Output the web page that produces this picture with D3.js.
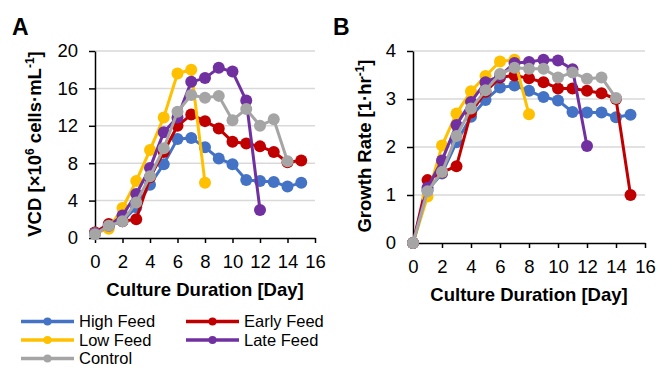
<!DOCTYPE html>
<meta charset="utf-8">
<style>
  body { margin: 0; background: #fff; }
  text { font-family: 'Liberation Sans', Arial, sans-serif; }
</style>
<script src="https://d3js.org/d3.v7.min.js"></script>
<body>
<svg id="chart" width="659" height="367"></svg>
<script>

// series names and colours (legend order)
var names  = ["High Feed", "Early Feed", "Low Feed", "Late Feed", "Control"]
var colors = ["#4472C4", "#C00000", "#FFC000", "#7030A0", "#A5A5A5"]

var days = [0, 1, 2, 3, 4, 5, 6, 7, 8, 9, 10, 11, 12, 13, 14, 15]
var xTicks = [0, 2, 4, 6, 8, 10, 12, 14, 16]

// VCD [x10^6 cells/mL]
var vcdHigh    = [0.6, 1.3, 1.8, 3.3, 5.7, 7.9, 10.6, 10.7, 9.7, 8.5, 7.9, 6.2, 6.1, 6.0, 5.5, 5.9]
var vcdEarly   = [0.6, 1.5, 1.8, 2.0, 6.5, 9.2, 12.0, 13.2, 12.5, 11.7, 10.3, 10.1, 9.8, 9.2, 8.1, 8.3]
var vcdLow     = [0.5, 1.0, 3.2, 6.1, 9.4, 12.9, 17.6, 18.0, 5.9]
var vcdLate    = [0.5, 1.3, 2.4, 4.7, 7.5, 11.3, 12.9, 16.7, 17.1, 18.2, 17.8, 14.7, 3.0]
var vcdControl = [0.4, 1.3, 1.8, 3.8, 6.6, 9.6, 13.5, 15.3, 15.0, 15.2, 12.6, 13.8, 12.0, 12.7, 8.2]
var vcdTicks = [0, 4, 8, 12, 16, 20]

// Growth rate [1/hr]
var grHigh    = [0, 1.1, 1.45, 2.1, 2.63, 2.98, 3.24, 3.28, 3.17, 3.04, 2.97, 2.73, 2.72, 2.72, 2.62, 2.67]
var grEarly   = [0, 1.31, 1.47, 1.6, 2.72, 3.15, 3.45, 3.49, 3.43, 3.35, 3.22, 3.22, 3.17, 3.12, 3.0, 1.0]
var grLow     = [0, 0.97, 2.03, 2.7, 3.16, 3.48, 3.78, 3.82, 2.68]
var grLate    = [0, 1.15, 1.72, 2.46, 2.94, 3.35, 3.48, 3.75, 3.77, 3.82, 3.8, 3.62, 2.02]
var grControl = [0, 1.08, 1.48, 2.23, 2.8, 3.18, 3.52, 3.65, 3.63, 3.63, 3.45, 3.55, 3.42, 3.45, 3.02]
var grTicks = [0, 1, 2, 3, 4]

var svg = d3.select("#chart")

function panel(opt) {
  var x = d3.scaleLinear().domain([0, 16]).range([opt.left, opt.right])
  var y = d3.scaleLinear().domain([0, opt.ymax]).range([opt.bottom, opt.top])

  var g = svg.append("g")

  // gridlines
  g.selectAll(".grid")
    .data(opt.yTicks.slice(1))
    .enter()
    .append("line")
    .attr("x1", opt.left).attr("x2", opt.right)
    .attr("y1", function(d){ return y(d) })
    .attr("y2", function(d){ return y(d) })
    .attr("stroke", "#d9d9d9")
    .attr("stroke-width", 1.5)

  // axes
  var xa = g.append("g")
    .attr("transform", "translate(0," + opt.bottom + ")")
    .call(d3.axisBottom(x).tickValues(xTicks).tickFormat(d3.format("d"))
      .tickSize(5).tickPadding(12).tickSizeOuter(0))
  var ya = g.append("g")
    .attr("transform", "translate(" + opt.left + ",0)")
    .call(d3.axisLeft(y).tickValues(opt.yTicks).tickFormat(d3.format("d"))
      .tickSize(6).tickPadding(11).tickSizeOuter(0))

  ;[xa, ya].forEach(function(a){
    a.select(".domain").attr("stroke", "#000").attr("stroke-width", 1.5)
    a.selectAll(".tick line").attr("stroke", "#000").attr("stroke-width", 1.5)
    a.selectAll("text").attr("font-size", 18.5).attr("fill", "#000")
      .style("font-family", "'Liberation Sans', Arial, sans-serif")
  })

  // series
  var line = d3.line()
    .x(function(d, i){ return x(days[i]) })
    .y(function(d){ return y(d) })

  opt.series.forEach(function(s, k){
    g.append("path")
      .attr("d", line(s))
      .attr("fill", "none")
      .attr("stroke", colors[k])
      .attr("stroke-width", 3)
      .attr("stroke-linejoin", "round")
    g.selectAll(".dot" + k)
      .data(s)
      .enter()
      .append("circle")
      .attr("cx", function(d, i){ return x(days[i]) })
      .attr("cy", function(d){ return y(d) })
      .attr("r", 6)
      .attr("fill", colors[k])
  })

  // axis titles
  g.append("text")
    .attr("x", (opt.left + opt.right) / 2)
    .attr("y", opt.bottom + 58)
    .attr("text-anchor", "middle")
    .attr("font-size", 18.5)
    .attr("font-weight", "bold")
    .text("Culture Duration [Day]")

  var yt = g.append("text")
    .attr("transform", "translate(" + opt.ytx + "," + opt.yty + ") rotate(-90)")
    .attr("text-anchor", "middle")
    .attr("font-size", 18.5)
    .attr("font-weight", "bold")
  opt.ytitle.forEach(function(p){
    var t = yt.append("tspan").text(p[0])
    if (p[1] == "sup") t.attr("font-size", 12).attr("dy", -7)
    if (p[1] == "down") t.attr("dy", 7)
  })

  svg.append("text")
    .attr("x", opt.labx).attr("y", 35)
    .attr("font-size", 23)
    .attr("font-weight", "bold")
    .text(opt.label)
}

panel({
  left: 95, right: 315, top: 51, bottom: 238, ymax: 20, yTicks: vcdTicks,
  series: [vcdHigh, vcdEarly, vcdLow, vcdLate, vcdControl],
  ytx: 41, yty: 144, label: "A", labx: 12,
  ytitle: [["VCD [×10"], ["6", "sup"], [" cells·mL", "down"], ["-1", "sup"], ["]", "down"]]
})

panel({
  left: 413, right: 645, top: 51, bottom: 243, ymax: 4, yTicks: grTicks,
  series: [grHigh, grEarly, grLow, grLate, grControl],
  ytx: 371, yty: 146, label: "B", labx: 333,
  ytitle: [["Growth Rate [1·hr"], ["-1", "sup"], ["]", "down"]]
})

// legend
var legend = svg.append("g")
var lx = [21, 186]
var ly = [321.5, 340, 358.5]
names.forEach(function(n, i){
  var cx = lx[i % 2], cy = ly[Math.floor(i / 2)]
  legend.append("line")
    .attr("x1", cx).attr("x2", cx + 53)
    .attr("y1", cy).attr("y2", cy)
    .attr("stroke", colors[i])
    .attr("stroke-width", 3.5)
  legend.append("circle")
    .attr("cx", cx + 26.5).attr("cy", cy)
    .attr("r", 4)
    .attr("fill", colors[i])
  legend.append("text")
    .attr("x", cx + 58).attr("y", cy + 5.5)
    .attr("font-size", 16.5)
    .text(n)
})

</script>
</body>
